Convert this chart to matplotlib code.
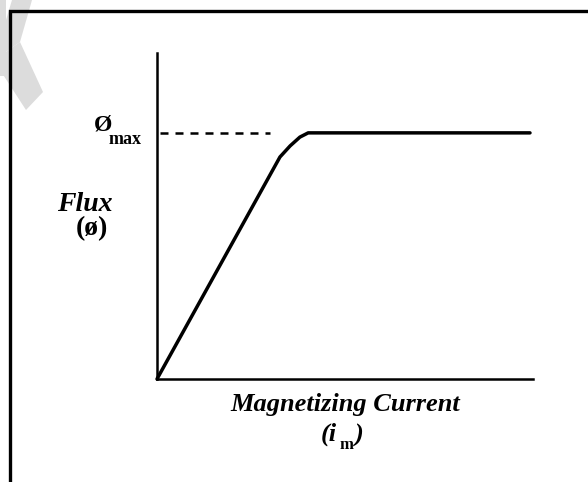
import matplotlib
matplotlib.use("Agg")
import matplotlib.pyplot as plt
from matplotlib.lines import Line2D
from matplotlib.patches import Polygon

W, H = 588, 482

# magnetization curve (current in arbitrary units, flux normalised)
current = [0.0, 3.27, 3.54, 3.80, 4.02, 9.92]
flux = [0.0, 0.681, 0.715, 0.742, 0.755, 0.755]
flux_max = 0.755
dash_end = 3.0


def px(x, y):
    # pixel position (from top-left) -> figure fraction
    return x / W, 1 - y / H


fig = plt.figure(figsize=(W / 100, H / 100), dpi=100)
fig.patch.set_facecolor("white")

# faint grey watermark stroke in the corner
for pts in [
    [(12, 0), (32, 0), (20, 42), (0, 56), (0, 40)],
    [(0, 56), (20, 42), (43, 92), (26, 110), (0, 70)],
    [(0, 0), (6, 0), (6, 76), (0, 76)],
]:
    fig.patches.append(Polygon([px(*p) for p in pts], closed=True,
                               transform=fig.transFigure, facecolor="#dcdcdc",
                               edgecolor="none", zorder=0))

# border of the scanned figure (only top and left visible)
fx, fy = zip(*[px(10, H), px(10, 11), px(W, 11)])
fig.lines.append(Line2D(fx, fy, transform=fig.transFigure, color="black",
                        lw=2.4, solid_joinstyle="miter", zorder=1))

left, bottom = px(157, 379)
right, top = px(533, 53)
ax = fig.add_axes([left, bottom, right - left, top - bottom])
ax.set_xlim(0, 10)
ax.set_ylim(0, 1)
ax.patch.set_alpha(0)

ax.plot(current, flux, color="black", lw=2.5, solid_capstyle="round",
        solid_joinstyle="round", clip_on=False)
ax.plot([0.08, dash_end], [flux_max, flux_max], color="black", lw=1.8,
        dashes=(3.2, 2.8), clip_on=False)

for s in ["top", "right"]:
    ax.spines[s].set_visible(False)
for s in ["left", "bottom"]:
    ax.spines[s].set_linewidth(1.8)
ax.set_xticks([])
ax.set_yticks([])

serif = "Liberation Serif"
fig.text(*px(112, 131), "Ø", family=serif, weight="bold", fontsize=17,
         ha="right", va="baseline")
fig.text(*px(109, 144), "max", family=serif, weight="bold", fontsize=13,
         ha="left", va="baseline")
fig.text(*px(85, 211), "Flux", family=serif, weight="bold", style="italic",
         fontsize=20, ha="center", va="baseline")
fig.text(*px(92, 235), "(ø)", family=serif, weight="bold", fontsize=20,
         ha="center", va="baseline")
fig.text(*px(345, 411), "Magnetizing Current", family=serif, weight="bold",
         style="italic", fontsize=19, ha="center", va="baseline")
fig.text(*px(321, 441), "(i", family=serif, weight="bold", style="italic",
         fontsize=19, ha="left", va="baseline")
fig.text(*px(339, 449), "m", family=serif, weight="bold", fontsize=12,
         ha="left", va="baseline")
fig.text(*px(355, 442), ")", family=serif, weight="bold", style="italic",
         fontsize=19, ha="left", va="baseline")

fig.savefig("out.png", dpi=100)
